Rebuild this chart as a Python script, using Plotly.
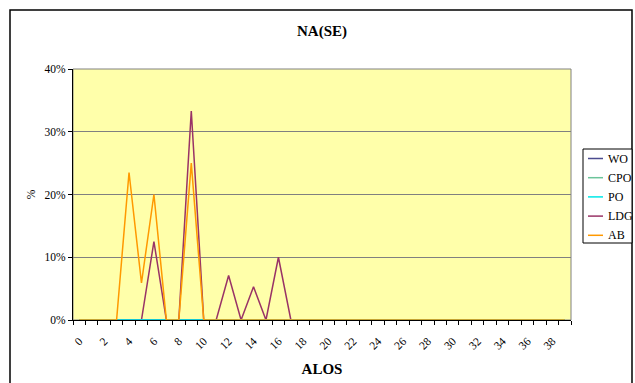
import plotly.graph_objects as go

alos = list(range(40))
tick_labels = [str(v) for v in range(0, 40, 2)]

wo = [0.0] * 40
cpo = [0.0] * 40
po = [0.0] * 40
ldg = [0.0] * 40
for i, v in {6: 12.5, 9: 33.3, 12: 7.1, 14: 5.3, 16: 10.0}.items():
    ldg[i] = v
ab = [0.0] * 40
for i, v in {4: 23.5, 5: 5.9, 6: 20.0, 9: 25.0}.items():
    ab[i] = v

legend_names = ["WO", "CPO", "PO", "LDG", "AB"]
colors = {"WO": "#4B4B8F", "CPO": "#6CC49A", "PO": "#00E8E8",
          "LDG": "#993366", "AB": "#FF9900"}
data = {"WO": wo, "CPO": cpo, "PO": po, "LDG": ldg, "AB": ab}
draw_order = ["LDG", "CPO", "WO", "PO", "AB"]

FONT = "Liberation Serif, Times New Roman, serif"

fig = go.Figure()
for name in draw_order:
    fig.add_trace(go.Scatter(
        x=alos, y=data[name], name=name, mode="lines",
        line=dict(color=colors[name], width=1.5), showlegend=False,
    ))

L, R, T, B = 73, 571, 69, 320
W, H = 635, 383
pw, ph = R - L, B - T


def px(x):
    return (x - L) / pw


def py(y):
    return (B - y) / ph


shapes = [
    dict(type="rect", xref="paper", yref="paper", x0=0, x1=1, y0=0, y1=1,
         line=dict(color="#808080", width=1), layer="below"),
    dict(type="rect", xref="paper", yref="paper",
         x0=px(10), x1=px(632), y0=py(386), y1=py(10),
         line=dict(color="black", width=1.5)),
    # legend box
    dict(type="rect", xref="paper", yref="paper",
         x0=px(583), x1=px(632), y0=py(243), y1=py(149),
         line=dict(color="black", width=1), fillcolor="white"),
]
annotations = []
for k, name in enumerate(legend_names):
    yc = 158.5 + k * 19.2
    shapes.append(dict(type="line", xref="paper", yref="paper",
                       x0=px(588), x1=px(603), y0=py(yc), y1=py(yc),
                       line=dict(color=colors[name], width=1.5)))
    annotations.append(dict(text=name, xref="paper", yref="paper",
                            x=px(606), y=py(yc), xanchor="left", yanchor="middle",
                            showarrow=False, font=dict(size=12, family=FONT)))

fig.update_layout(
    width=W, height=H,
    margin=dict(l=L, r=W - R, t=T, b=H - B, autoexpand=False),
    paper_bgcolor="white",
    plot_bgcolor="#FFFFAA",
    font=dict(family=FONT, size=11, color="black"),
    title=dict(text="<b>NA(SE)</b>", x=0.5, xref="paper", y=1 - 31 / H,
               yanchor="middle", font=dict(size=15, family=FONT)),
    showlegend=False,
    xaxis=dict(
        range=[-0.5, 39.5], tickmode="array", tickvals=list(range(0, 40, 2)),
        ticktext=tick_labels, tickangle=-45, ticks="outside", ticklen=9,
        tickcolor="rgba(0,0,0,0)", showgrid=False,
        showline=True, linecolor="black", linewidth=1, zeroline=False,
        minor=dict(tick0=-0.5, dtick=1, ticks="outside", ticklen=4,
                   tickcolor="black", showgrid=False),
        title=dict(text="<b>ALOS</b>", font=dict(size=15, family=FONT), standoff=12),
        tickfont=dict(size=11.5),
    ),
    yaxis=dict(
        range=[0, 40], tickmode="array", tickvals=[0, 10, 20, 30, 40],
        ticktext=["0%", "10%", "20%", "30%", "40%"],
        ticks="outside", ticklen=4, tickcolor="black",
        showgrid=True, gridcolor="#808080", gridwidth=1,
        showline=True, linecolor="black", linewidth=1, zeroline=False,
        title=dict(text="%", font=dict(size=11.5, family=FONT), standoff=6),
        tickfont=dict(size=11.5),
    ),
    shapes=shapes,
    annotations=annotations,
)

fig.write_html("out.html")
